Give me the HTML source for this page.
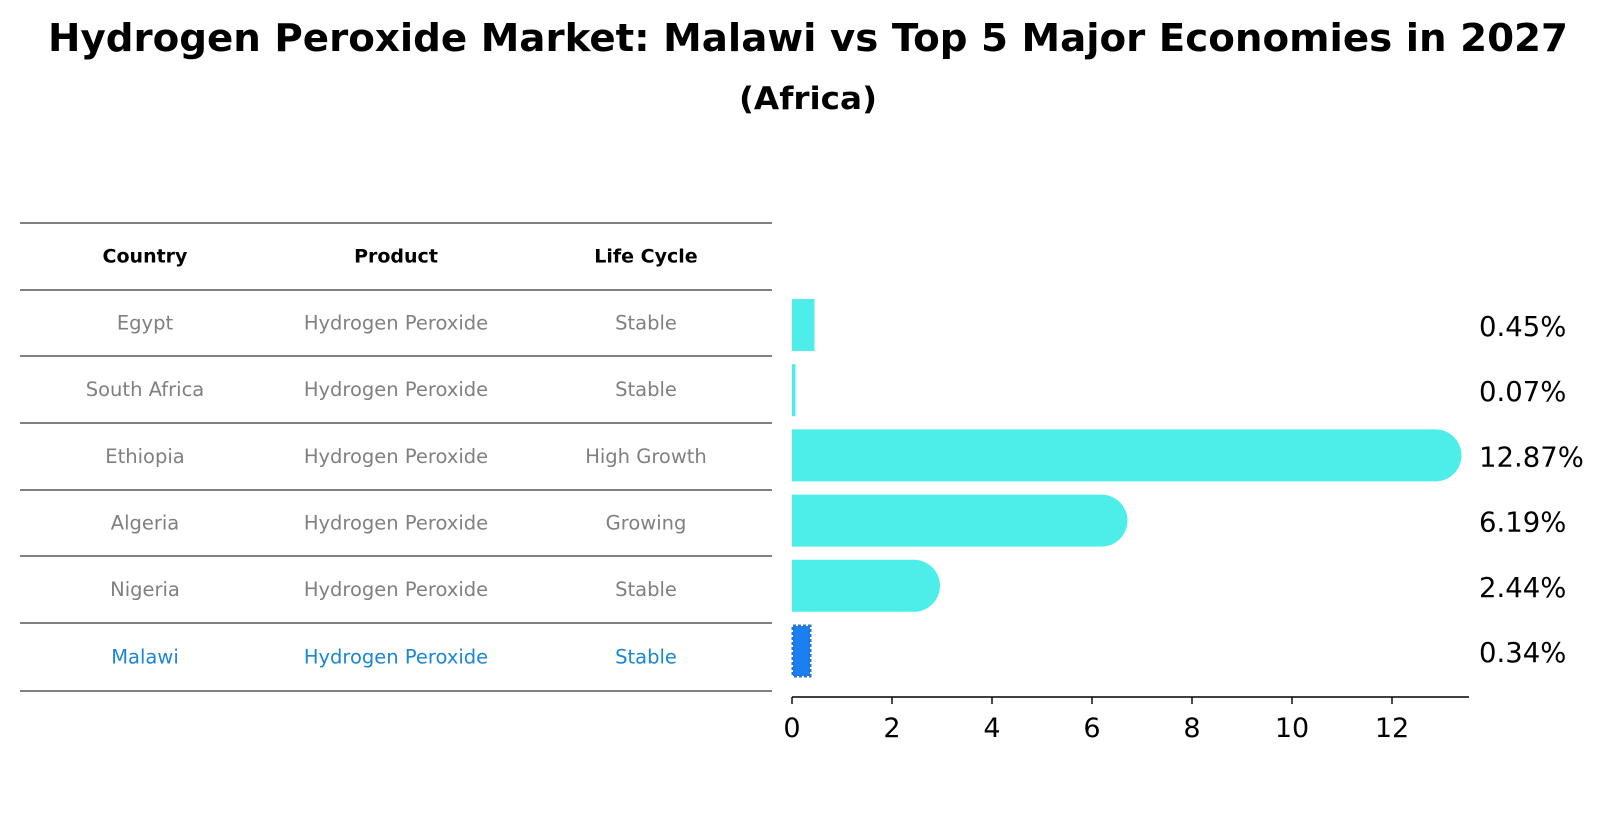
<!DOCTYPE html>
<html><head><meta charset="utf-8"><style>
html,body{margin:0;padding:0;background:#fff;}
svg{display:block;font-family:"DejaVu Sans","Liberation Sans",sans-serif;}
</style></head><body>
<svg id="chart" width="1604" height="823" viewBox="0 0 1604 823" xmlns="http://www.w3.org/2000/svg">
<text x="808" y="51" text-anchor="middle" font-weight="bold" font-size="38" textLength="1520" lengthAdjust="spacingAndGlyphs">Hydrogen Peroxide Market: Malawi vs Top 5 Major Economies in 2027</text>
<text x="808" y="109" text-anchor="middle" font-weight="bold" font-size="31" textLength="138" lengthAdjust="spacingAndGlyphs">(Africa)</text>
<g id="table"></g>
<g id="bars"></g>
</svg>
<script>
const countries = ["Egypt","South Africa","Ethiopia","Algeria","Nigeria","Malawi"];
const products = ["Hydrogen Peroxide","Hydrogen Peroxide","Hydrogen Peroxide","Hydrogen Peroxide","Hydrogen Peroxide","Hydrogen Peroxide"];
const lifeCycles = ["Stable","Stable","High Growth","Growing","Stable","Stable"];
const shares = [0.45, 0.07, 12.87, 6.19, 2.44, 0.34];
const shareLabels = ["0.45%","0.07%","12.87%","6.19%","2.44%","0.34%"];
const xTicks = [0, 2, 4, 6, 8, 10, 12];
const headers = ["Country","Product","Life Cycle"];

const NS = "http://www.w3.org/2000/svg";
function mk(tag, attrs, parent){const e=document.createElementNS(NS,tag);for(const k in attrs)e.setAttribute(k,attrs[k]);parent.appendChild(e);return e;}

const table = document.getElementById('table');
const lineYs = [223,290,356,423,490,556,623,691];
const colX = [145,396,646];
lineYs.forEach((y,i)=>{
  const l = mk('line',{x1:20,x2:772,y1:y,y2:y,stroke:'#000','stroke-width':1},table);
  
  
});
headers.forEach((h,j)=>{
  const t = mk('text',{x:colX[j],y:(lineYs[0]+lineYs[1])/2,'text-anchor':'middle','dominant-baseline':'central','font-size':19,'font-weight':'bold',fill:'#000'},table);
  t.textContent=h;
  
  
});
countries.forEach((c,i)=>{
  const y=(lineYs[i+1]+lineYs[i+2])/2;
  const col = c==="Malawi" ? '#1a86d6' : '#808080';
  [c, products[i], lifeCycles[i]].forEach((v,j)=>{
    const t = mk('text',{x:colX[j],y:y,'text-anchor':'middle','dominant-baseline':'central','font-size':19.5,fill:col},table);
    t.textContent=v;
    
    
  });
});

const g = document.getElementById('bars');
const x0 = 792, pxPerUnit = 50, axisY = 697;
const xs = v => x0 + v*pxPerUnit;
const yc = i => 325 + i*65.2;
const barH = 52;
shares.forEach((v,i)=>{
  const isM = countries[i]==="Malawi";
  const fill = isM ? '#1a7ff0' : '#4deeea';
  const cy = yc(i);
  const w = xs(v)-x0;
  let bar;
  if (isM) {
    bar = mk('rect',{x:x0+1,y:cy-barH/2+1,width:w,height:barH-2,fill:fill,stroke:'#2a72d8','stroke-width':3,'stroke-dasharray':'3 2'},g);
  } else if (v > 1) {
    const r = barH/2;
    bar = mk('path',{d:`M${x0},${cy-r} H${x0+w} A${r},${r} 0 0 1 ${x0+w},${cy+r} H${x0} Z`,fill:fill},g);
  } else {
    bar = mk('rect',{x:x0,y:cy-barH/2,width:Math.max(w,1.5),height:barH,fill:fill},g);
  }
  
  
  const t = mk('text',{x:1479,y:cy+2,'dominant-baseline':'central','font-size':27.5,fill:'#000'},g);
  t.textContent = shareLabels[i];
  
  
});
const ax = mk('line',{x1:x0,x2:1469,y1:axisY,y2:axisY,stroke:'#000','stroke-width':1.6},g);


xTicks.forEach(v=>{
  const tk = mk('line',{x1:xs(v),x2:xs(v),y1:axisY,y2:axisY+7,stroke:'#000','stroke-width':1.4},g);
  
  
  const t = mk('text',{x:xs(v),y:737,'text-anchor':'middle','font-size':27,fill:'#000'},g);
  t.textContent = String(v);
  
  
});
</script>
</body></html>
